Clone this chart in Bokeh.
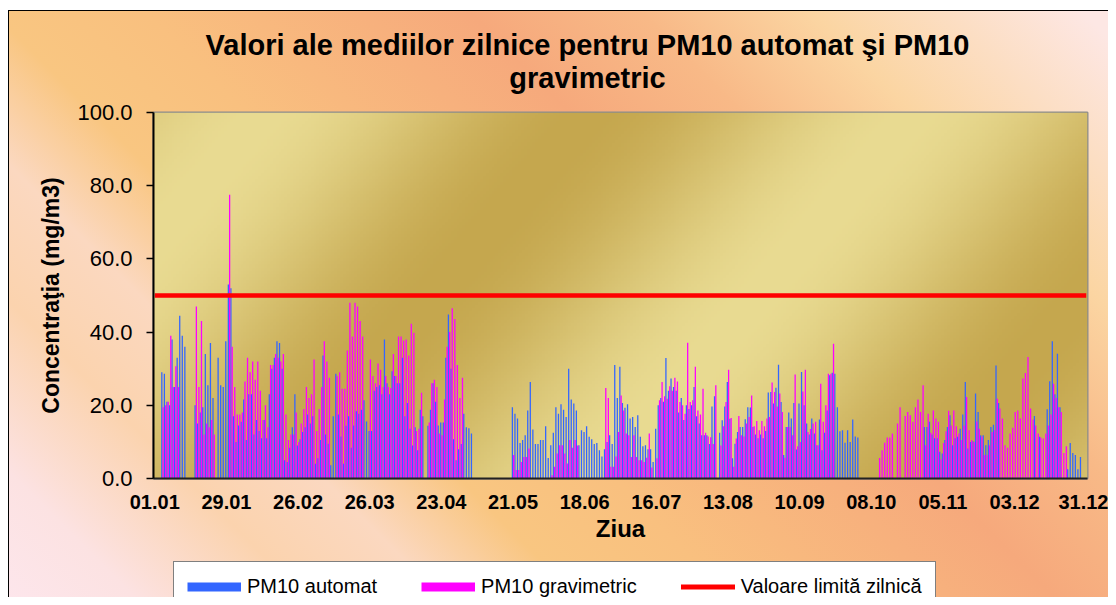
import numpy as np
from bokeh.plotting import figure
from bokeh.layouts import column
from bokeh.models import (ColumnDataSource, FixedTicker, NumeralTickFormatter, Legend,
                          LegendItem, Label, Range1d)
from bokeh.transform import dodge
from bokeh.embed import file_html
from bokeh.resources import INLINE

N = None

# ---- daily values (day 1 = 01.01), PM10 automat (blue) ----
automat_jan = [N, N, N, 29, 28.6, 21, 20, 38, 25, 33, 44.5, 39, 36, N, N, N, 20, 15, 18, 19.5,
               34, 25.5, 37, 22, N, 33, 25.5, 25, 37.5, 53, 52]
automat_feb = [17, 10, 14.5, 15.5, 21.6, 10.5, 23, 23, 12, 16, 13, 11, 16, 11, 23, 30, 33, 37.5,
               37, 30, 5, 4.5, 8.4, 14, 23, 9, 10.7, 12.7]
automat_mar = [14, 17.5, 15, 17, 4, 5.5, 10.5, 33.6, 12, 9.5, 3.6, 17, 28.6, 17.5, 11.5, 4, 14.4,
               17, 8.4, 14.5, 18.4, 17.7, 18.8, 21.4, 15.6, 13, 13, 24, 25, 25.5, 23]
automat_apr = [38, 26, 23, 29.3, 28, 26, 26, 33, 17, 20.6, 13.6, 9, 14, 7.7, 18.8, 17, N, 14.4,
               18.8, 26, 21, 14.5, 15.3, 15.3, 33, 44.8, 30, 10.7, 5, 8]
automat_may = [9.4, 17.7, 14, 13.7, 12.3] + [N] * 15 + [19.5, 17.7, 16.4, 9.7, 10.5, 11.8, 18.6,
                                                        26.4, 13.4, 9.4, 9.4]
automat_jun = [10.5, 10.5, 14.3, 5.6, 9.1, 12.5, 19.5, 17.7, 20.3, 18.8, 16.8, 30, 21.6, 20.5,
               18.6, 9.1, 13.2, 12.7, 14.3, 11.4, 10.7, 9.4, 9.7, 7.7, 6, 8, 10, 11.8, 9.4, 31]
automat_jul = [22, 30.5, 20.6, 19.3, 20.3, 16.4, 16.8, 14.1, 17.3, 11.4, 8.8, 9.1, 8, 8, 4.5,
               13.6, 20, 22, 21, 32.9, 24, 27.3, 25, 24, 18, 22, 16, 20, 19, 20, 25]
automat_aug = [17, 15, 11.8, 11.8, 11.8, 9.4, 19.7, 22.5, N, 12.5, 15.9, 19.7, 26.4, 16.3, 5.5,
               9.5, 12.7, 14.1, 14.1, 16.2, 19.5, 19.4, 14.1, 12, 11, 12, 11, 13, 23.5, 23.6, 20.5]
automat_sep = [24.8, 31.1, 20.9, 6.4, 14.1, 18, 16.4, 20.6, 7.9, 20.5, 29.1, 20, 15, 12, 16.4,
               12.3, 9.1, 16.1, 7.7, 12.5, 18.6, 28.2, 28.9, 28.6, 19.5, 12.9, 13.2, 9.8, 13.2, 10]
automat_oct = [16.1, 11.5, 11.2] + [N] * 25 + [14.1, 14.1, 15.5]
automat_nov = [12, 11, 11, 7.3, 6.8, 10.5, 14.1, 17.3, 9.1, 11, 11.4, 13.6, 17.5, 26.4, 8.2, 10,
               10.2, 23.2, 18.2, 11.8, 11.8, 9.1, 10.5, 14.1, 14.7, 30.9, 20.6, N, N, N]
automat_dec = [N] * 10 + [17.1, N, 11.4, N, N, 18.9, 26.6, 37.5, 23, 34.1, 19.5, N, N, 2.5, 9.7,
                          7, 6.4, 2.5, 5.9, N, N]

# ---- PM10 gravimetric (magenta) ----
grav_jan = [N, N, N, 19.5, 20, 21, 39, 25, 30.7, 25, N, N, N, N, N, N, 47, 25, 43, 12, 15, 14,
            16, 12, N, N, N, N, N, 77.5, 36]
grav_feb = [25, 17.5, 17.5, 18, 26.5, 33, 29, 32, 27, 32, 24, 16, 20, 14, 31, 31, 34, 33, 32, 34,
            17.5, 10.5, 12, 12, 18, 10, 15, 19]
grav_mar = [25, 22, 23, 32.5, 13, 19, 25, 37.5, 32, 27.5, N, N, 28, 29, 24.5, 24.5, 35, 48, 38.8,
            48, 47, 43, 38.8, N, N, 32.5, 28, 26, 31.4, 29.7, 25]
grav_apr = [28, 25, 24.7, 34, 28, 38.8, 38.8, 37.7, 38, 33.6, 42.3, 39.8, 13, 13.6, 23.4, N, N,
            15.3, 26, 27, 25, 12.3, 11.8, 21.6, 36, 40, 46.5, 43.6, 31, 22]
grav_may = [27.5, N, N, N, N] + [N] * 15 + [6.4, 2.3, 2.3, 4.5, 5.9, 5.9, 8.2, N, N, N, N]
grav_jun = [N, N, N, N, 0.9, 3.2, 6.8, 9.1, 9.1, 6.8, 4.1, 10.5, 8.4, 10.5, 9] + [N] * 10 + \
           [24.7, 22, 3.2, 3.2, 6]
grav_jul = [12.7, 22.7, 18.6, 12.3, 11.8, 5.9, 11.8, 5.9, 5, 5, 4.5, 5.7, 12.3, 3, N, 5.5, 21.4,
            26.4, 22.5, 21.8, 25.2, 24, 27.5, 26.5, 20.9, 20, 17.7, 37.1, 20.9, 21.4, 30.5]
grav_aug = [18.6, 17.5, 24.5, 12.5, 11.5, 11.3, 9.4, 25.5, N, 9, 14.3, 20.9, 29.7, 16.5, 3.2,
            10.9, 17.1, 11.8, 11.5, 15, 16.8, 22.7, 14.3, 15.7, 13.2, 15.7, 14.3, 16.4, 16.8,
            26.2, 23.6]
grav_sep = [19.7, 23.2, 18.2, 5.7, 14.1, 14.1, 11.8, 28.4, 8.8, 10, 23.8, 29.7, 12.7, 13.5, 15,
            15.5, 9.1, 25.9, 15.5, 20, 28.6, 28.6, 36.8] + [N] * 7
grav_oct = [N] * 10 + [5.6, 7.7, 9.8, 11.2, 11.2, 12.3, N, 15, 19.5, N, 17.1, 18.2, 17.3, 15.5,
                       19.5, 21.6, 18.2, 25.5, 9.1, 17.7, 12.5]
grav_nov = [18.6, 16.4, 15.5, 5.2, 9.7, 12.9, 18.5, 14.5, 18.6, 14.3, 12.3, 10.5, 14.5, 22.3,
            13.2, 10.5, 10, 15.6, 13.6, 11.5, 6.4, 6.4, 9.1, 12.7, 13.2, 21.8, 19.1, 16.4, 9.1, 8.4]
grav_dec = [12.3, 13.9, 18.2, 18.6, 16.4, 27.3, 28.8, 33.2, 19.1, 16.1, 14.5, 12.3, 11.2, 10.9,
            12.3, 14.5, 17.5, 25.9, 22, 19.5, 18.2, 7, 8.8] + [N] * 8

limit_value = 50.0
tick_days = [1, 29, 57, 85, 113, 141, 169, 197, 225, 253, 281, 309, 337, 365]
tick_labels = ["01.01", "29.01", "26.02", "26.03", "23.04", "21.05", "18.06", "16.07",
               "13.08", "10.09", "08.10", "05.11", "03.12", "31.12"]
y_ticks = [0, 20, 40, 60, 80, 100]
title_lines = ["Valori ale mediilor zilnice pentru PM10 automat şi PM10", "gravimetric"]
series_labels = ["PM10 automat", "PM10 gravimetric", "Valoare limită zilnică"]

month_len = [31, 28, 31, 30, 31, 30, 31, 31, 30, 31, 30, 31]
automat_months = [automat_jan, automat_feb, automat_mar, automat_apr, automat_may, automat_jun,
                  automat_jul, automat_aug, automat_sep, automat_oct, automat_nov, automat_dec]
grav_months = [grav_jan, grav_feb, grav_mar, grav_apr, grav_may, grav_jun,
               grav_jul, grav_aug, grav_sep, grav_oct, grav_nov, grav_dec]
for m, (a, g) in enumerate(zip(automat_months, grav_months)):
    assert len(a) == month_len[m], ("automat", m, len(a))
    assert len(g) == month_len[m], ("grav", m, len(g))


def to_arr(months):
    flat = [v for mm in months for v in mm]
    return np.array([np.nan if v is None else v for v in flat], dtype=float)


automat = to_arr(automat_months)
grav = to_arr(grav_months)
days = np.arange(1, len(automat) + 1)

src = ColumnDataSource(dict(day=days, automat=automat, grav=grav,
                            limit=np.full(len(days), limit_value)))

FONT = "Liberation Sans"
BLUE, MAGENTA, RED = "#3366ff", "#ff00ff", "#ff0000"
W_TOTAL = 1108
BL, BR = 153, 21          # left / right borders shared by the three stacked strips

# ------------------------------------------------------------------ title strip
TITLE_H = 98
pt = figure(width=W_TOTAL, height=TITLE_H, x_range=Range1d(BL, W_TOTAL - BR),
            y_range=Range1d(TITLE_H, 0), x_axis_type=None, y_axis_type=None,
            output_backend="svg", toolbar_location=None, title=None,
            min_border_left=BL, min_border_right=BR, min_border_top=0, min_border_bottom=0)
pt.border_fill_color = None
pt.background_fill_color = None
pt.outline_line_color = None
for txt, yc in zip(title_lines, [44, 77]):
    pt.add_layout(Label(x=587, y=yc, text=txt, text_align="center", text_baseline="middle",
                        text_font=FONT, text_font_style="bold", text_font_size="29px",
                        text_color="#000000"))

# ------------------------------------------------------------------ main chart
p = figure(width=W_TOTAL, height=454, x_range=Range1d(0.5, 365.5), y_range=Range1d(0, 100),
           output_backend="svg", toolbar_location=None, title=None,
           min_border_left=BL, min_border_right=BR, min_border_top=14, min_border_bottom=74)

p.border_fill_color = None
p.background_fill_color = "#cdb05a"
p.outline_line_color = "#8c8c8c"
p.outline_line_width = 2

# plot-area gradient (gold with light diagonal bands)
H, W = 120, 320
yy, xx = np.mgrid[0:H, 0:W]
xpx = (xx + 0.5) / W * 934.0
yup = (yy + 0.5) / H * 366.0
f = xpx - 0.85 * yup
t = 0.5 + 0.5 * np.cos(2 * np.pi * (f - 450.0) / 650.0)
light = np.array([233, 219, 146], dtype=float)
dark = np.array([197, 167, 78], dtype=float)
col = dark + (light - dark) * t[..., None]
img = np.empty((H, W), dtype=np.uint32)
view = img.view(dtype=np.uint8).reshape((H, W, 4))
view[..., :3] = col.astype(np.uint8)
view[..., 3] = 255
p.image_rgba(image=[img], x=p.x_range.start, y=p.y_range.start,
             dw=p.x_range.end - p.x_range.start, dh=p.y_range.end - p.y_range.start)

p.vbar(x=dodge("day", -0.25, range=p.x_range), top="automat", width=0.5, source=src,
       fill_color=BLUE, line_color=None)
p.vbar(x=dodge("day", 0.25, range=p.x_range), top="grav", width=0.5, source=src,
       fill_color=MAGENTA, line_color=None)
p.line("day", "limit", source=src, line_color=RED, line_width=4.5)

p.xgrid.visible = False
p.ygrid.visible = False

p.xaxis.ticker = FixedTicker(ticks=tick_days)
p.xaxis.major_label_overrides = {d: l for d, l in zip(tick_days, tick_labels)}
p.xaxis.minor_tick_line_color = None
p.xaxis.major_tick_out = 0
p.xaxis.major_tick_in = 0
p.xaxis.major_label_standoff = 16
p.xaxis.major_label_text_font = FONT
p.xaxis.major_label_text_font_style = "bold"
p.xaxis.major_label_text_font_size = "20px"
p.xaxis.major_label_text_color = "#000000"
p.xaxis.axis_line_color = "#222222"
p.xaxis.axis_line_width = 2
p.xaxis.axis_label = "Ziua"
p.xaxis.axis_label_text_font = FONT
p.xaxis.axis_label_text_font_style = "bold"
p.xaxis.axis_label_text_font_size = "24px"
p.xaxis.axis_label_text_color = "#000000"
p.xaxis.axis_label_standoff = 3

p.yaxis.ticker = FixedTicker(ticks=y_ticks)
p.yaxis.formatter = NumeralTickFormatter(format="0.0")
p.yaxis.minor_tick_line_color = None
p.yaxis.major_tick_out = 7
p.yaxis.major_tick_in = 0
p.yaxis.major_tick_line_color = "#000000"
p.yaxis.major_tick_line_width = 1.5
p.yaxis.major_label_standoff = 14
p.yaxis.major_label_text_font = FONT
p.yaxis.major_label_text_font_size = "22px"
p.yaxis.major_label_text_color = "#000000"
p.yaxis.axis_line_color = "#000000"
p.yaxis.axis_line_width = 2
p.yaxis.axis_label = "Concentraţia (mg/m3)"
p.yaxis.axis_label_text_font = FONT
p.yaxis.axis_label_text_font_style = "bold"
p.yaxis.axis_label_text_font_size = "23px"
p.yaxis.axis_label_text_color = "#000000"
p.yaxis.axis_label_standoff = 10

# ------------------------------------------------------------------ legend strip
pl = figure(width=W_TOTAL, height=45, x_range=Range1d(-2, -1), y_range=Range1d(-2, -1),
            x_axis_type=None, y_axis_type=None, output_backend="svg", toolbar_location=None,
            title=None, min_border_left=BL, min_border_right=BR, min_border_top=0,
            min_border_bottom=0)
pl.border_fill_color = None
pl.background_fill_color = None
pl.outline_line_color = None
# legend swatches (the same series, outside this strip's ranges so only the key shows)
swatches = [pl.line("day", "automat", source=src, line_color=BLUE, line_width=9, line_cap="butt"),
            pl.line("day", "grav", source=src, line_color=MAGENTA, line_width=9, line_cap="butt"),
            pl.line("day", "limit", source=src, line_color=RED, line_width=5, line_cap="round")]
legend = Legend(items=[LegendItem(label=lab, renderers=[r]) for lab, r in zip(series_labels, swatches)],
                orientation="horizontal", location=(20, -15),
                label_text_font=FONT, label_text_font_size="20px", label_text_color="#000000",
                glyph_width=54, glyph_height=23, label_standoff=6, spacing=44, padding=13,
                margin=0, border_line_color="#000000", border_line_width=1,
                background_fill_color="#ffffff", background_fill_alpha=1.0)
pl.add_layout(legend)

grad = ("linear-gradient(45deg, #fde6ec 0%, #fce2e2 8%, #fbd3ae 18%, #fbd8c0 26%, "
        "#f9c681 34%, #f9c07f 43%, #f6a97c 62%, #f8b987 72%, #fbd5a2 82%, #fde7e4 98%)")
layout = column(pt, p, pl, spacing=0, styles={
    "background": ("linear-gradient(#000, #000) 8px 10px / 1px 100% no-repeat, "
                   "linear-gradient(#000, #000) 8px 10px / 100% 1px no-repeat, "
                   + grad + " 8px 10px / 100% 100% no-repeat, #ffffff"),
})

open("out.html", "w").write(file_html(layout, INLINE))
